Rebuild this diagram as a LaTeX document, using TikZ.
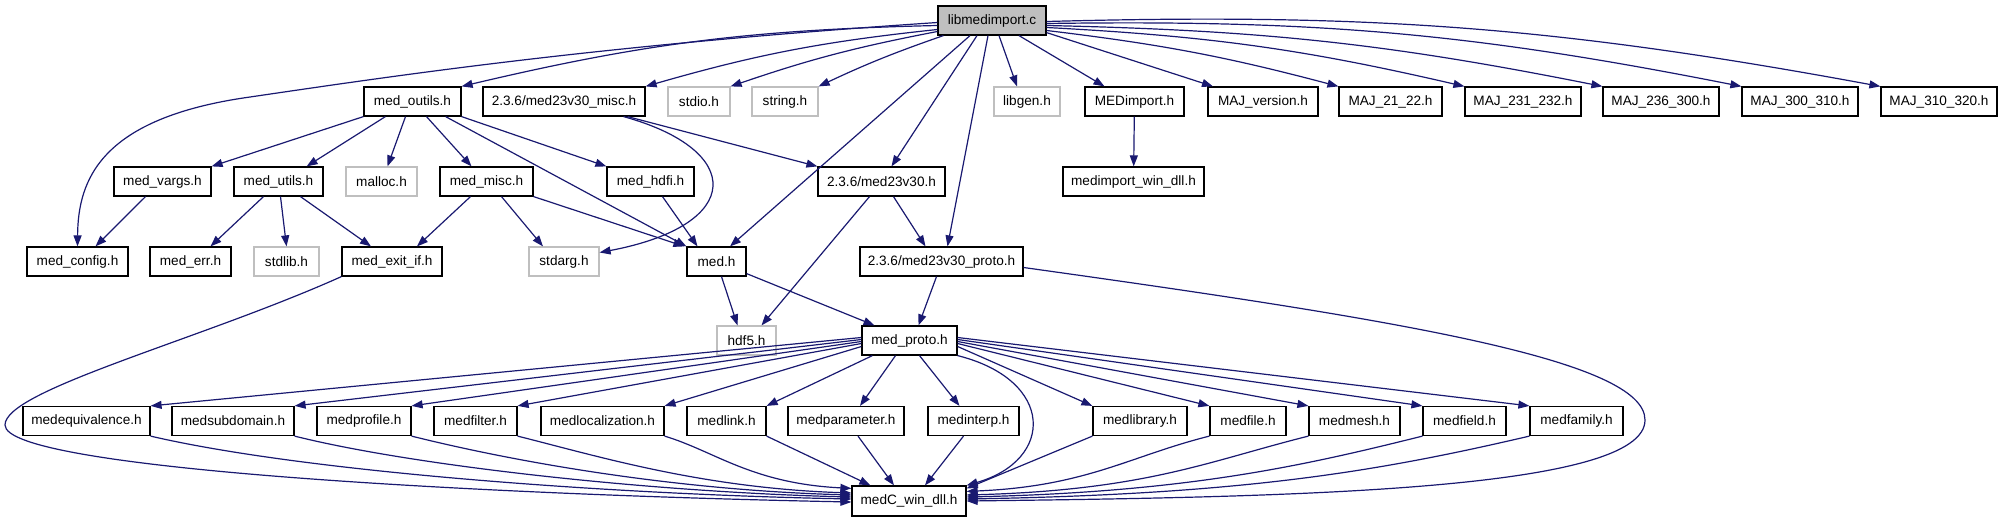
\documentclass[tikz,border=0pt]{standalone}
\usepackage{fontspec}
\setmainfont{Liberation Sans}
\usetikzlibrary{arrows.meta}
\definecolor{edgec}{RGB}{25,25,112}
\definecolor{boxgrey}{RGB}{191,191,191}
\tikzset{
  box/.style={draw=black, line width=1.2pt, minimum height=29pt, inner sep=0pt, font=\fontsize{13.6pt}{15pt}\selectfont, text=black},
  gbox/.style={box, draw=boxgrey},
  e/.style={draw=edgec, line width=1.2pt, -{Triangle[length=11pt,width=8pt]}},
}
\begin{document}
\begin{tikzpicture}[x=1pt,y=1pt]
\useasboundingbox (0,0) rectangle (2002,-523);
% top
\node[box, fill=boxgrey, minimum width=108pt] (libmed) at (992,-20.5) {libmedimport.c};
% row 1
\node[box, minimum width=97pt] (outils) at (412.5,-101.5) {med\_outils.h};
\node[box, minimum width=162pt] (misc) at (564,-101.5) {2.3.6/med23v30\_misc.h};
\node[gbox, minimum width=62pt] (stdio) at (699,-101.5) {stdio.h};
\node[gbox, minimum width=66pt] (string) at (785,-101.5) {string.h};
\node[gbox, minimum width=66pt] (libgen) at (1027,-101.5) {libgen.h};
\node[box, minimum width=99pt] (MEDimport) at (1134.5,-101.5) {MEDimport.h};
\node[box, minimum width=110pt] (MAJver) at (1263,-101.5) {MAJ\_version.h};
\node[box, minimum width=103pt] (MAJa) at (1390.5,-101.5) {MAJ\_21\_22.h};
\node[box, minimum width=116pt] (MAJb) at (1523,-101.5) {MAJ\_231\_232.h};
\node[box, minimum width=116pt] (MAJc) at (1661,-101.5) {MAJ\_236\_300.h};
\node[box, minimum width=116pt] (MAJd) at (1800,-101.5) {MAJ\_300\_310.h};
\node[box, minimum width=116pt] (MAJe) at (1939,-101.5) {MAJ\_310\_320.h};
% row 2
\node[box, minimum width=97pt] (vargs) at (162.5,-181.5) {med\_vargs.h};
\node[box, minimum width=89pt] (utils) at (278.5,-181.5) {med\_utils.h};
\node[gbox, minimum width=71pt] (malloc) at (381.5,-181.5) {malloc.h};
\node[box, minimum width=93pt] (medmisc) at (486.5,-181.5) {med\_misc.h};
\node[box, minimum width=87pt] (hdfi) at (650.5,-181.5) {med\_hdfi.h};
\node[box, minimum width=127pt] (m23) at (881.5,-181.5) {2.3.6/med23v30.h};
\node[box, minimum width=141pt] (winimp) at (1133.5,-181.5) {medimport\_win\_dll.h};
% row 3
\node[box, minimum width=101pt] (config) at (77.5,-261.5) {med\_config.h};
\node[box, minimum width=81pt] (err) at (190.5,-261.5) {med\_err.h};
\node[gbox, minimum width=65pt] (stdlib) at (286.5,-261.5) {stdlib.h};
\node[box, minimum width=100pt] (exitif) at (392,-261.5) {med\_exit\_if.h};
\node[gbox, minimum width=70pt] (stdarg) at (564,-261.5) {stdarg.h};
\node[box, minimum width=59pt] (med) at (716.5,-261.5) {med.h};
\node[box, minimum width=163pt] (proto23) at (941.5,-261.5) {2.3.6/med23v30\_proto.h};
% row 4
\node[gbox, minimum width=59pt] (hdf5) at (746.5,-340.5) {hdf5.h};
\node[box, minimum width=95pt] (mp) at (909.5,-340.5) {med\_proto.h};
% row 5
\node[box, minimum width=127pt] (meq) at (86.5,-421) {medequivalence.h};
\node[box, minimum width=122pt] (msub) at (233,-421) {medsubdomain.h};
\node[box, minimum width=94pt] (mprof) at (364,-421) {medprofile.h};
\node[box, minimum width=83pt] (mfilt) at (475.5,-421) {medfilter.h};
\node[box, minimum width=123pt] (mloc) at (602.5,-421) {medlocalization.h};
\node[box, minimum width=79pt] (mlink) at (726.5,-421) {medlink.h};
\node[box, minimum width=116pt] (mparam) at (846,-421) {medparameter.h};
\node[box, minimum width=91pt] (minterp) at (973.5,-421) {medinterp.h};
\node[box, minimum width=94pt] (mlib) at (1140,-421) {medlibrary.h};
\node[box, minimum width=76pt] (mfile) at (1248,-421) {medfile.h};
\node[box, minimum width=91pt] (mmesh) at (1354.5,-421) {medmesh.h};
\node[box, minimum width=83pt] (mfield) at (1464.5,-421) {medfield.h};
\node[box, minimum width=93pt] (mfam) at (1576.5,-421) {medfamily.h};
% row 6
\node[box, minimum width=114pt, minimum height=30pt] (medC) at (909,-501) {medC\_win\_dll.h};

% edges from libmedimport.c
\draw[e] ([yshift=-2pt]libmed.west) .. controls (600,-45) and (400,-75) .. (250,-97) .. controls (100,-118) and (78,-180) .. (config.north);
\draw[e] ([yshift=-5pt]libmed.west) to[bend right=6] (outils.north east);
\draw[e] ([yshift=-9pt]libmed.west) to[bend right=5] (misc.north east);
\draw[e] ([yshift=-11pt]libmed.west) to[bend right=4] (stdio.north east);
\draw[e] ([xshift=6pt]libmed.south west) to[bend right=3] (string.north east);
\draw[e] ([xshift=-22pt]libmed.south) -- ([xshift=13.5pt]med.north);
\draw[e] ([xshift=-15pt]libmed.south) -- ([xshift=10pt]m23.north);
\draw[e] ([xshift=-4pt]libmed.south) -- ([xshift=6pt]proto23.north);
\draw[e] ([xshift=7pt]libmed.south) -- ([xshift=-10pt]libgen.north);
\draw[e] ([xshift=27pt]libmed.south) -- ([xshift=-30pt]MEDimport.north);
\draw[e] ([yshift=3pt]libmed.south east) -- ([xshift=-50pt]MAJver.north);
\draw[e] ([yshift=-10pt]libmed.east) to[bend left=4] (MAJa.north west);
\draw[e] ([yshift=-7pt]libmed.east) to[bend left=5] (MAJb.north west);
\draw[e] ([yshift=-5pt]libmed.east) to[bend left=5] (MAJc.north west);
\draw[e] ([yshift=-3pt]libmed.east) to[bend left=6] (MAJd.north west);
\draw[e] ([yshift=-1pt]libmed.east) to[bend left=6] (MAJe.north west);

% med_outils.h
\draw[e] (outils.south west) -- (vargs.north east);
\draw[e] ([xshift=22pt]outils.south west) -- ([xshift=-17pt]utils.north east);
\draw[e] ([xshift=-7pt]outils.south) -- ([xshift=6pt]malloc.north);
\draw[e] ([xshift=14pt]outils.south) -- ([xshift=-15pt]medmisc.north);
\draw[e] ([xshift=-16pt]outils.south east) -- (med.north west);
\draw[e] (outils.south east) -- (hdfi.north west);

% med23v30_misc.h
\draw[e] ([xshift=-18pt]misc.south east) -- (m23.north west);
\draw[e] ([xshift=-22pt]misc.south east) .. controls (745,-150) and (745,-225) .. ([yshift=9pt]stdarg.east);

% second level
\draw[e] ([xshift=-17pt]vargs.south) -- ([xshift=18pt]config.north);
\draw[e] ([xshift=-15pt]utils.south) -- ([xshift=20pt]err.north);
\draw[e] ([xshift=2pt]utils.south) -- (stdlib.north);
\draw[e] ([xshift=22pt]utils.south) -- ([xshift=-21pt]exitif.north);
\draw[e] ([xshift=-16pt]medmisc.south) -- ([xshift=25pt]exitif.north);
\draw[e] ([xshift=15pt]medmisc.south) -- ([xshift=-21pt]stdarg.north);
\draw[e] (medmisc.south east) -- ([xshift=-2pt]med.north west);
\draw[e] ([xshift=12pt]hdfi.south) -- ([xshift=-19pt]med.north);
\draw[e] (MEDimport) -- (winimp);
\draw[e] ([xshift=-12pt]m23.south) -- ([xshift=15pt]hdf5.north);
\draw[e] ([xshift=12pt]m23.south) -- ([xshift=-16pt]proto23.north);
\draw[e] ([xshift=5pt]med.south) -- ([xshift=-9pt]hdf5.north);
\draw[e] ([yshift=3pt]med.south east) -- ([xshift=-35pt]mp.north);
\draw[e] ([xshift=-5pt]proto23.south) -- ([xshift=9pt]mp.north);
\draw[e] ([yshift=-6pt]proto23.east) .. controls (1400,-320) and (1645,-360) .. (1645,-420) .. controls (1645,-490) and (1300,-497) .. (medC.east);
\draw[e] (exitif.south west) .. controls (200,-340) and (5,-390) .. (5,-425) .. controls (5,-470) and (500,-495) .. ([yshift=-1pt]medC.west);

% med_proto.h to row 5
\draw[e] ([yshift=3pt]mp.west) -- (meq.north east);
\draw[e] ([yshift=1pt]mp.west) -- (msub.north east);
\draw[e] ([yshift=-1pt]mp.west) -- (mprof.north east);
\draw[e] ([yshift=-3pt]mp.west) -- (mfilt.north east);
\draw[e] ([yshift=-6pt]mp.west) -- (mloc.north east);
\draw[e] ([xshift=11pt]mp.south west) -- (mlink.north east);
\draw[e] ([xshift=-14pt]mp.south) -- ([xshift=14pt]mparam.north);
\draw[e] ([xshift=10pt]mp.south) -- ([xshift=-14pt]minterp.north);
\draw[e] ([yshift=-6pt]mp.east) -- (mlib.north west);
\draw[e] ([yshift=-3pt]mp.east) -- (mfile.north west);
\draw[e] ([yshift=-1pt]mp.east) -- (mmesh.north west);
\draw[e] ([yshift=1pt]mp.east) -- (mfield.north west);
\draw[e] ([yshift=3pt]mp.east) -- (mfam.north west);
\draw[e] (mp.south east) .. controls (1055,-380) and (1055,-460) .. (medC.north east);

% row 5 to medC_win_dll.h
\draw[e] (meq.south east) .. controls +(150,-35) and +(-250,5) .. ([yshift=2pt]medC.west);
\draw[e] (msub.south east) .. controls +(120,-30) and +(-200,5) .. ([yshift=4pt]medC.west);
\draw[e] (mprof.south east) .. controls +(100,-25) and +(-180,5) .. ([yshift=6pt]medC.west);
\draw[e] (mfilt.south east) .. controls +(80,-20) and +(-150,5) .. ([yshift=8pt]medC.west);
\draw[e] (mloc.south east) .. controls +(50,-15) and +(-100,5) .. ([yshift=-3pt]medC.north west);
\draw[e] (mlink.south east) -- ([xshift=19pt]medC.north west);
\draw[e] ([xshift=12pt]mparam.south) -- ([xshift=-15pt]medC.north);
\draw[e] ([xshift=-10pt]minterp.south) -- ([xshift=16pt]medC.north);
\draw[e] (mlib.south west) -- ([yshift=-3pt]medC.north east);
\draw[e] (mfile.south west) .. controls +(-80,-20) and +(120,5) .. ([yshift=-6pt]medC.north east);
\draw[e] (mmesh.south west) .. controls +(-100,-25) and +(180,5) .. ([yshift=6pt]medC.east);
\draw[e] (mfield.south west) .. controls +(-120,-30) and +(220,5) .. ([yshift=4pt]medC.east);
\draw[e] (mfam.south west) .. controls +(-150,-35) and +(280,5) .. ([yshift=2pt]medC.east);
\end{tikzpicture}
\end{document}
